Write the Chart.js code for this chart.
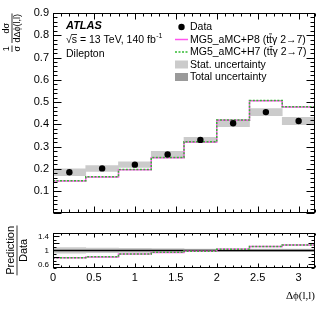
<!DOCTYPE html>
<html>
<head>
<meta charset="utf-8">
<script src="https://cdn.jsdelivr.net/npm/chart.js@4.4.0/dist/chart.umd.min.js"></script>
<style>
  html, body { margin: 0; padding: 0; background: #fff; }
  #wrap { position: relative; width: 332px; height: 319px; }
  canvas { position: absolute; left: 0; }
  #main { top: 0; }
  #ratio { top: 224px; }
</style>
</head>
<body>
<div id="wrap">
  <canvas id="main" width="332" height="224"></canvas>
  <canvas id="ratio" width="332" height="95"></canvas>
</div>
<script>
// bins of delta phi(l,l)
const binEdges = [0, 0.4, 0.8, 1.2, 1.6, 2.0, 2.4, 2.8, 3.2];
const binCenters = [0.2, 0.6, 1.0, 1.4, 1.8, 2.2, 2.6, 3.0];

// normalised cross-section values
const dataVals = [0.185, 0.202, 0.219, 0.265, 0.330, 0.405, 0.455, 0.415];
const statErr = [0.015, 0.013, 0.013, 0.014, 0.012, 0.016, 0.016, 0.016];
const p8Vals = [0.146, 0.164, 0.196, 0.250, 0.321, 0.418, 0.506, 0.478];
const h7Vals = [0.147, 0.165, 0.197, 0.251, 0.322, 0.419, 0.507, 0.479];

// tick labels
const yTicks = [0.1, 0.2, 0.3, 0.4, 0.5, 0.6, 0.7, 0.8, 0.9];
const ratioTicks = [0.6, 0.8, 1, 1.2, 1.4];
const xTicks = [0, 0.5, 1, 1.5, 2, 2.5, 3];

const legendLabels = [
  "Data",
  "MG5_aMC+P8 (tt\u03b3 2\u21927)",
  "MG5_aMC+H7 (tt\u03b3 2\u21927)",
  "Stat. uncertainty",
  "Total uncertainty",
];

const FONT = '"Liberation Sans", Arial, sans-serif';
const PINK = "#ff55ee";
const GREEN = "#33bb33";
const STAT_GREY = "#cbcbcb";
const TOTAL_GREY = "#9a9a9a";

// histogram as a stepped line through the bin edges
const stepPoints = (vals) =>
  binEdges.map((e, i) => ({ x: e, y: vals[Math.min(i, vals.length - 1)] }));

// frame + inward ROOT style ticks on all four sides
function frameTicks(cfg) {
  return {
    id: "frameTicks",
    afterDatasetsDraw(chart) {
      const { ctx, chartArea: a, scales } = chart;
      const x = scales.x, y = scales.y;
      const L = Math.round(a.left) + 0.5, R = Math.round(a.right) - 0.5;
      const T = Math.round(a.top) + 0.5, B = Math.round(a.bottom) - 0.5;
      ctx.save();
      ctx.strokeStyle = "#000";
      ctx.lineWidth = 1;
      ctx.beginPath();
      const nx = Math.round((x.max - x.min) / cfg.xMinor);
      for (let k = 0; k <= nx; k++) {
        const v = x.min + k * cfg.xMinor;
        const major = Math.abs(v / cfg.xMajor - Math.round(v / cfg.xMajor)) < 1e-6;
        const len = major ? cfg.xMajLen : cfg.xMinLen;
        const px = Math.round(x.getPixelForValue(v)) + 0.5;
        ctx.moveTo(px, B); ctx.lineTo(px, B - len);
        ctx.moveTo(px, T); ctx.lineTo(px, T + len);
      }
      const ny = Math.round((y.max - y.min) / cfg.yMinor);
      for (let k = 0; k <= ny; k++) {
        const v = y.min + k * cfg.yMinor;
        const major = Math.abs(v / cfg.yMajor - Math.round(v / cfg.yMajor)) < 1e-6;
        const len = major ? cfg.yMajLen : cfg.yMinLen;
        const py = Math.round(y.getPixelForValue(v)) + 0.5;
        ctx.moveTo(L, py); ctx.lineTo(L + len, py);
        ctx.moveTo(R, py); ctx.lineTo(R - len, py);
      }
      ctx.stroke();
      ctx.strokeRect(L, T, R - L, B - T);
      ctx.restore();
    },
  };
}

// ATLAS label, legend and y title of the upper pad
const mainText = {
  id: "mainText",
  afterDraw(chart) {
    const ctx = chart.ctx;
    ctx.save();
    ctx.fillStyle = "#000";
    ctx.textBaseline = "alphabetic";
    ctx.textAlign = "left";

    ctx.font = "bold italic 11px " + FONT;
    ctx.fillText("ATLAS", 66, 29);
    ctx.font = "10.5px " + FONT;
    const lumi = "\u221as = 13 TeV, 140 fb";
    ctx.fillText(lumi, 66, 43);
    const wRoot = ctx.measureText("\u221a").width;
    const wS = ctx.measureText("\u221as").width;
    ctx.fillRect(66 + wRoot - 0.5, 34, wS - wRoot + 0.5, 0.8);
    const wl = ctx.measureText(lumi).width;
    ctx.font = "7px " + FONT;
    ctx.fillText("-1", 66 + wl + 0.5, 38);
    ctx.font = "10.5px " + FONT;
    ctx.fillText("Dilepton", 66, 57);

    // legend
    const rows = [27, 39.5, 52, 64.5, 77];
    const sx0 = 175, sx1 = 188, tx = 190;
    ctx.beginPath();
    ctx.arc(181.5, rows[0], 3.2, 0, Math.PI * 2);
    ctx.fill();
    ctx.lineWidth = 1.5;
    ctx.strokeStyle = PINK;
    ctx.beginPath(); ctx.moveTo(sx0, rows[1]); ctx.lineTo(sx1, rows[1]); ctx.stroke();
    ctx.strokeStyle = GREEN;
    ctx.setLineDash([2, 1.5]);
    ctx.beginPath(); ctx.moveTo(sx0, rows[2]); ctx.lineTo(sx1, rows[2]); ctx.stroke();
    ctx.setLineDash([]);
    ctx.fillStyle = STAT_GREY;
    ctx.fillRect(sx0, rows[3] - 4, sx1 - sx0, 8);
    ctx.fillStyle = TOTAL_GREY;
    ctx.fillRect(sx0, rows[4] - 4, sx1 - sx0, 8);

    ctx.fillStyle = "#000";
    ctx.font = "10.5px " + FONT;
    ctx.textBaseline = "middle";
    legendLabels.forEach((t, i) => {
      ctx.fillText(t, tx, rows[i] + 0.5);
      if (i === 1 || i === 2) {
        // bar over the anti-top
        const pre = t.slice(0, t.indexOf("(") + 2);
        const a = tx + ctx.measureText(pre).width;
        const b = tx + ctx.measureText(pre + "t").width;
        ctx.fillRect(a, rows[i] - 6, b - a, 0.8);
      }
    });

    // y title: 1/sigma dsigma/dDeltaphi(l,l)
    ctx.translate(12, 52);
    ctx.rotate(-Math.PI / 2);
    ctx.font = "9px " + FONT;
    ctx.textAlign = "center";
    ctx.fillRect(0, -0.4, 6.5, 0.8);
    ctx.textBaseline = "bottom";
    ctx.fillText("1", 3.2, -0.5);
    ctx.textBaseline = "top";
    ctx.fillText("\u03c3", 3.2, 1);
    const den = "d\u0394\u03d5(l,l)";
    const wd = ctx.measureText(den).width;
    ctx.fillRect(9, -0.4, wd + 1, 0.8);
    ctx.textBaseline = "bottom";
    ctx.fillText("d\u03c3", 9.5 + wd / 2, -0.5);
    ctx.textBaseline = "top";
    ctx.fillText(den, 9.5 + wd / 2, 1);
    ctx.restore();
  },
};

const ratioText = {
  id: "ratioText",
  afterDraw(chart) {
    const ctx = chart.ctx;
    const a = chart.chartArea;
    ctx.save();
    ctx.fillStyle = "#000";
    ctx.translate(17, (a.top + a.bottom) / 2);
    ctx.rotate(-Math.PI / 2);
    ctx.font = "11px " + FONT;
    ctx.textAlign = "center";
    const w = ctx.measureText("Prediction").width;
    ctx.fillRect(-w / 2 - 0.5, -0.4, w + 1, 0.8);
    ctx.textBaseline = "bottom";
    ctx.fillText("Prediction", 0, -0.5);
    ctx.textBaseline = "top";
    ctx.fillText("Data", 0, 1.5);
    ctx.restore();
  },
};

const yFixedWidth = (s) => { s.width = 53; };

// ---------- upper pad ----------
const mainChart = new Chart(document.getElementById("main").getContext("2d"), {
  type: "line",
  data: {
    datasets: [
      {
        type: "bar",
        label: "Stat. uncertainty",
        data: binCenters.map((c, i) => ({ x: c, y: [dataVals[i] - statErr[i], dataVals[i] + statErr[i]] })),
        backgroundColor: STAT_GREY,
        borderWidth: 0,
        barPercentage: 1,
        categoryPercentage: 1,
        grouped: false,
        order: 4,
      },
      {
        label: "MG5_aMC+P8",
        data: stepPoints(p8Vals),
        borderColor: PINK,
        borderWidth: 1.5,
        stepped: "before",
        pointRadius: 0,
        fill: false,
        order: 3,
      },
      {
        label: "MG5_aMC+H7",
        data: stepPoints(h7Vals),
        borderColor: GREEN,
        borderWidth: 1.5,
        borderDash: [2, 1.5],
        stepped: "before",
        pointRadius: 0,
        fill: false,
        order: 2,
      },
      {
        label: "Data",
        data: binCenters.map((c, i) => ({ x: c, y: dataVals[i] })),
        showLine: false,
        pointRadius: 3.2,
        pointBackgroundColor: "#000",
        pointBorderWidth: 0,
        order: 1,
      },
    ],
  },
  options: {
    responsive: false,
    animation: false,
    events: [],
    layout: { padding: { top: 13, right: 17, bottom: 2, left: 0 } },
    plugins: { legend: { display: false }, tooltip: { enabled: false } },
    scales: {
      x: { type: "linear", min: 0, max: 3.2, offset: false, display: false },
      y: {
        type: "linear",
        min: 0,
        max: 0.9,
        afterFit: yFixedWidth,
        afterBuildTicks: (s) => { s.ticks = yTicks.map((v) => ({ value: v })); },
        grid: { display: false, drawTicks: false },
        border: { display: false },
        ticks: { callback: (v) => String(v), color: "#000", padding: 4, font: { family: FONT, size: 11 } },
      },
    },
  },
  plugins: [
    frameTicks({ xMinor: 0.1, xMajor: 0.5, xMajLen: 6, xMinLen: 3, yMinor: 0.02, yMajor: 0.1, yMajLen: 8, yMinLen: 4 }),
    mainText,
  ],
});

// ---------- ratio pad ----------
const ratioChart = new Chart(document.getElementById("ratio").getContext("2d"), {
  type: "line",
  data: {
    datasets: [
      {
        type: "bar",
        label: "Stat. uncertainty",
        data: binCenters.map((c, i) => ({ x: c, y: [1 - statErr[i] / dataVals[i], 1 + statErr[i] / dataVals[i]] })),
        backgroundColor: STAT_GREY,
        borderWidth: 0,
        barPercentage: 1,
        categoryPercentage: 1,
        grouped: false,
        order: 5,
      },
      {
        label: "unity",
        data: [{ x: 0, y: 1 }, { x: 3.2, y: 1 }],
        borderColor: "#000",
        borderWidth: 1.5,
        pointRadius: 0,
        order: 4,
      },
      {
        label: "MG5_aMC+P8 / Data",
        data: stepPoints(p8Vals.map((v, i) => v / dataVals[i])),
        borderColor: PINK,
        borderWidth: 1.5,
        stepped: "before",
        pointRadius: 0,
        order: 3,
      },
      {
        label: "MG5_aMC+H7 / Data",
        data: stepPoints(h7Vals.map((v, i) => v / dataVals[i])),
        borderColor: GREEN,
        borderWidth: 1.5,
        borderDash: [2, 1.5],
        stepped: "before",
        pointRadius: 0,
        order: 2,
      },
    ],
  },
  options: {
    responsive: false,
    animation: false,
    events: [],
    layout: { padding: { top: 4, right: 17, bottom: 0, left: 0 } },
    plugins: { legend: { display: false }, tooltip: { enabled: false } },
    scales: {
      x: {
        type: "linear",
        min: 0,
        max: 3.2,
        offset: false,
        afterFit: (s) => { s.height = 51; },
        afterBuildTicks: (s) => { s.ticks = xTicks.map((v) => ({ value: v })); },
        grid: { display: false, drawTicks: false },
        border: { display: false },
        ticks: { callback: (v) => String(v), color: "#000", padding: 3, maxRotation: 0, font: { family: FONT, size: 11 } },
        title: {
          display: true,
          text: "\u0394\u03d5(l,l)",
          align: "end",
          color: "#000",
          font: { family: '"Liberation Serif", serif', size: 11 },
          padding: { top: 0, bottom: 16 },
        },
      },
      y: {
        type: "linear",
        min: 0.5,
        max: 1.5,
        afterFit: yFixedWidth,
        afterBuildTicks: (s) => { s.ticks = ratioTicks.map((v) => ({ value: v })); },
        grid: { display: false, drawTicks: false },
        border: { display: false },
        ticks: { callback: (v) => String(v), color: "#000", padding: 4, font: { family: FONT, size: 8 } },
      },
    },
  },
  plugins: [
    frameTicks({ xMinor: 0.1, xMajor: 0.5, xMajLen: 4, xMinLen: 2, yMinor: 0.1, yMajor: 0.2, yMajLen: 6, yMinLen: 3 }),
    ratioText,
  ],
});
</script>
</body>
</html>
